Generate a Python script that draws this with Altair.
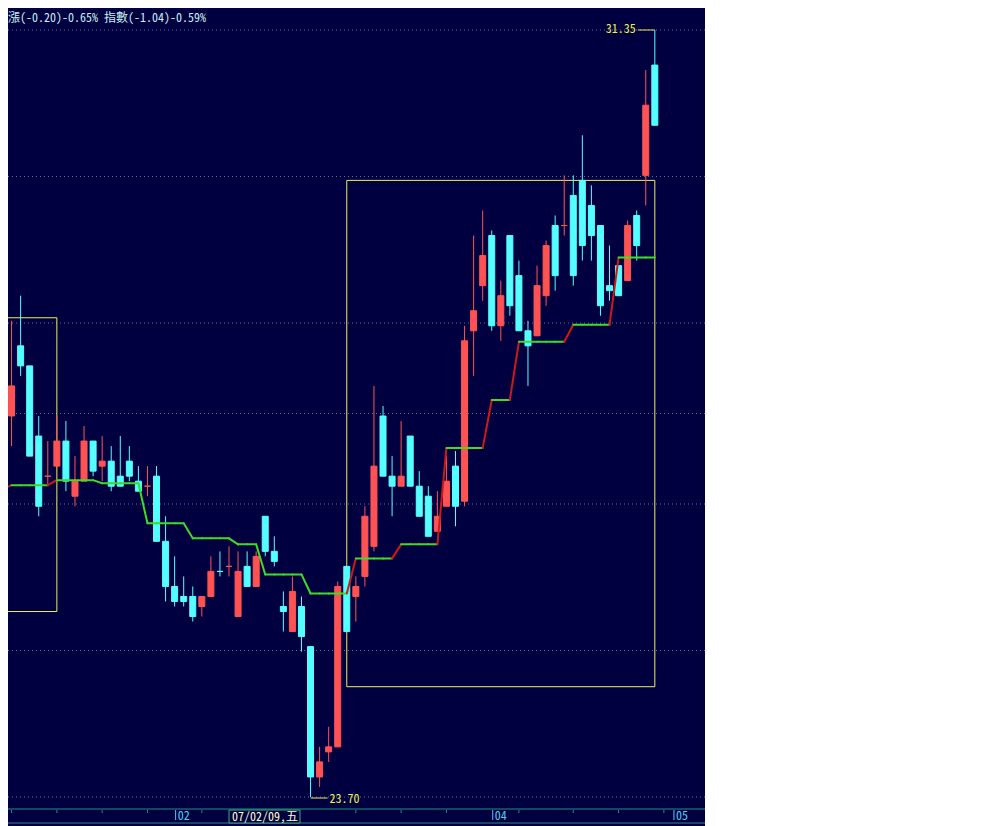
import altair as alt
import pandas as pd
import numpy as np

# ---------------- data ----------------
opens = [27.00, 27.50, 28.20, 28.00, 27.30, 26.90, 27.00, 27.25, 26.70, 26.85,
         27.25, 27.00, 27.05, 26.90, 27.05, 26.85, 26.80, 26.90, 26.25, 25.80,
         25.70, 25.70, 25.60, 25.70, 25.95, 26.00, 25.50, 26.00, 25.80, 26.50,
         26.15, 25.60, 25.35, 25.60, 25.20, 23.90, 24.15, 24.20, 26.00, 25.70,
         25.90, 26.20, 27.50, 26.90, 26.80, 27.30, 26.80, 26.70, 26.35, 26.60,
         27.00, 26.65, 28.35, 28.80, 29.30, 28.40, 29.30, 28.90, 28.35, 28.30,
         28.70, 29.40, 29.40, 29.70, 29.85, 29.60, 29.40, 28.80, 29.00, 28.85,
         29.50, 29.90, 31.00]
closes = [27.55, 27.80, 28.00, 27.10, 26.60, 26.90, 27.25, 26.85, 26.85, 27.25,
          26.95, 27.05, 26.80, 26.80, 26.90, 26.75, 26.80, 26.25, 25.80, 25.65,
          25.65, 25.50, 25.70, 25.95, 25.95, 26.00, 25.95, 25.80, 26.10, 26.15,
          26.05, 25.55, 25.75, 25.30, 23.90, 24.05, 24.20, 25.80, 25.35, 25.80,
          26.50, 27.00, 26.90, 26.80, 26.90, 26.80, 26.50, 26.30, 26.50, 26.85,
          26.60, 28.25, 28.55, 29.10, 28.40, 28.70, 28.60, 28.35, 28.20, 28.80,
          29.20, 28.90, 29.40, 28.90, 29.20, 29.30, 28.60, 28.75, 28.70, 29.40,
          29.20, 30.60, 30.40]
highs = [27.80, 28.45, 28.70, 28.00, 27.50, 27.25, 27.50, 27.45, 27.10, 27.40,
         27.25, 27.30, 27.20, 27.30, 27.20, 27.00, 27.00, 27.00, 26.50, 26.10,
         25.90, 25.80, 25.70, 26.10, 26.15, 26.20, 26.15, 26.15, 26.15, 26.50,
         26.30, 25.75, 25.90, 25.70, 25.20, 24.20, 24.40, 25.85, 26.00, 25.90,
         26.60, 27.80, 27.60, 27.10, 27.45, 27.30, 26.95, 26.80, 26.75, 27.10,
         27.15, 28.40, 29.30, 29.55, 29.35, 28.85, 29.30, 29.05, 28.45, 29.00,
         29.25, 29.50, 29.90, 29.90, 30.30, 29.80, 29.40, 29.20, 29.00, 29.45,
         29.55, 30.95, 31.35]
lows = [26.85, 27.20, 27.90, 27.10, 26.50, 26.80, 27.00, 26.75, 26.60, 26.85,
        26.90, 26.85, 26.75, 26.80, 26.85, 26.75, 26.70, 26.25, 25.65, 25.60,
        25.60, 25.45, 25.50, 25.70, 25.90, 25.90, 25.50, 25.80, 25.80, 26.10,
        26.00, 25.35, 25.35, 25.15, 23.70, 23.80, 24.05, 24.20, 25.35, 25.45,
        25.80, 26.15, 26.90, 26.50, 26.80, 26.80, 26.50, 26.30, 26.35, 26.60,
        26.40, 26.60, 27.90, 28.65, 28.35, 28.25, 28.50, 28.35, 27.80, 28.30,
        28.60, 28.75, 29.30, 28.80, 29.05, 29.05, 28.50, 28.65, 28.70, 28.85,
        29.05, 29.60, 30.40]
stop_line = ([26.77] + [26.81] * 5 + [26.86] * 5 + [26.83] * 5 + [26.43] * 5 +
             [26.28] * 5 + [26.22] * 3 + [25.92] * 5 + [25.73] * 5 + [26.08] * 5 +
             [26.22] * 5 + [27.18] * 5 + [27.66] * 3 + [28.24] * 6 + [28.41] * 5 +
             [29.08] * 5)

box_start = [-3, 38]
box_end = [6, 72]
box_top = [28.48, 29.85]
box_bottom = [25.55, 24.80]
fib_levels = [0, 0.191, 0.382, 0.5, 0.618, 0.809, 1]
month_idx = [19, 54, 74]
month_lbl = ["02", "04", "05"]
week_ticks = [1, 6, 11, 16, 22, 27, 32, 39, 44, 49, 57, 63, 68, 73]
cursor_idx = [25]
cursor_lbl = ["07/02/09,五"]
header = ["漲(-0.20)-0.65% 指數(-1.04)-0.59%"]

# ---------------- styles ----------------
W, H = 697, 818
BG = "#000040"
RED = "#FF5353"
CYAN = "#55FFFF"
GREEN = "#3CDC28"
DARKRED = "#D01818"
YEL = "#F0F050"
GRID = "#6A6A98"
TEAL = "#2A8C82"
MONTH = "#50CCF0"
FONT = "Noto Sans Mono CJK TC, DejaVu Sans Mono, monospace"

xs = alt.Scale(domain=[0.607, 0.607 + W / 9.06], nice=False, zero=False, padding=0)
ys = alt.Scale(domain=[23.4108, 31.5694], nice=False, zero=False, padding=0)

n = len(opens)
df = pd.DataFrame({"i": range(n), "open": opens, "close": closes,
                   "high": highs, "low": lows})
prev = df["close"].shift(1)
up = (df["close"] > df["open"]) | ((df["close"] == df["open"]) & (df["close"] > prev))
df["col"] = np.where(up, RED, CYAN)

seg = pd.DataFrame({"i": list(range(n - 1)), "i2": list(range(1, n)),
                    "v": stop_line[:-1], "v2": stop_line[1:]})
seg["col"] = np.where(seg["v2"] > seg["v"], DARKRED, GREEN)

lo_p, hi_p = min(lows), max(highs)
grid = pd.DataFrame({"p": [lo_p + f * (hi_p - lo_p) for f in fib_levels]})
boxes = pd.DataFrame({"a": box_start, "b": box_end, "t": box_top, "u": box_bottom})
hi_df = pd.DataFrame({"i": [int(np.argmax(highs))], "p": [hi_p], "t": [f"{hi_p:.2f}"]})
lo_df = pd.DataFrame({"i": [int(np.argmin(lows))], "p": [lo_p], "t": [f"{lo_p:.2f}"]})
months = pd.DataFrame({"i": month_idx, "t": month_lbl})
ticks = pd.DataFrame({"i": week_ticks})
cursor = pd.DataFrame({"i": cursor_idx, "t": cursor_lbl})
head = pd.DataFrame({"t": header})

X = lambda f: alt.X(f, scale=xs, axis=None)
Y = lambda f: alt.Y(f, scale=ys, axis=None)

grid_l = alt.Chart(grid).mark_rule(color=GRID, strokeDash=[1, 3], strokeWidth=1).encode(
    x=alt.value(0), x2=alt.value(W), y=Y("p:Q"))

box_l = alt.Chart(boxes).mark_rect(fillOpacity=0, stroke=YEL, strokeWidth=1).encode(
    x=X("a:Q"), x2="b:Q", y=Y("t:Q"), y2="u:Q")

wick = alt.Chart(df).mark_rule(strokeWidth=1).encode(
    x=X("i:Q"), y=Y("low:Q"), y2="high:Q", color=alt.Color("col:N", scale=None))

body = alt.Chart(df).mark_bar(size=6, strokeWidth=1).encode(
    x=X("i:Q"), y=Y("open:Q"), y2="close:Q",
    fill=alt.Fill("col:N", scale=None), stroke=alt.Stroke("col:N", scale=None))

line = alt.Chart(seg).mark_rule(strokeWidth=2, strokeCap="round").encode(
    x=X("i:Q"), x2="i2:Q", y=Y("v:Q"), y2="v2:Q", color=alt.Color("col:N", scale=None))

hi_lead = alt.Chart(hi_df).mark_rule(color=YEL, strokeWidth=1, x2Offset=-17).encode(
    x=X("i:Q"), x2="i:Q", y=Y("p:Q"))
hi_txt = alt.Chart(hi_df).mark_text(align="right", baseline="middle", dx=-19, dy=-1,
                                    color=YEL, font=FONT, fontSize=12).encode(
    x=X("i:Q"), y=Y("p:Q"), text="t:N")
lo_lead = alt.Chart(lo_df).mark_rule(color=YEL, strokeWidth=1, x2Offset=17, yOffset=1, y2Offset=1).encode(
    x=X("i:Q"), x2="i:Q", y=Y("p:Q"))
lo_txt = alt.Chart(lo_df).mark_text(align="left", baseline="middle", dx=19, dy=2,
                                    color=YEL, font=FONT, fontSize=12).encode(
    x=X("i:Q"), y=Y("p:Q"), text="t:N")

axis_lines = alt.Chart(pd.DataFrame({"y": [801, 815]})).mark_rule(color=TEAL, strokeWidth=1).encode(
    x=alt.value(0), x2=alt.value(W), y=alt.Y("y:Q", scale=None))
tick_l = alt.Chart(ticks).mark_rule(color=TEAL, strokeWidth=1).encode(
    x=X("i:Q"), y=alt.value(802), y2=alt.value(805))
month_sep = alt.Chart(months).mark_rule(color=MONTH, strokeWidth=1, xOffset=1, x2Offset=1).encode(
    x=X("i:Q"), y=alt.value(802), y2=alt.value(812))
month_txt = alt.Chart(months).mark_text(align="left", baseline="middle", dx=3,
                                        color=MONTH, font=FONT, fontSize=12).encode(
    x=X("i:Q"), y=alt.value(808), text="t:N")

cur_box = alt.Chart(cursor).mark_rect(fill=BG, stroke="#3AAA8A", strokeWidth=1, x2Offset=71).encode(
    x=X("i:Q"), x2="i:Q", y=alt.value(802), y2=alt.value(815))
cur_txt = alt.Chart(cursor).mark_text(align="left", baseline="middle", dx=3,
                                      color="#FFFFC8", font=FONT, fontSize=12).encode(
    x=X("i:Q"), y=alt.value(808.5), text="t:N")

head_txt = alt.Chart(head).mark_text(align="left", baseline="middle",
                                     color="#C8F0F0", font=FONT, fontSize=12).encode(
    x=alt.value(0), y=alt.value(10), text="t:N")

chart = alt.layer(
    grid_l, box_l, wick, body, line, hi_lead, hi_txt, lo_lead, lo_txt,
    axis_lines, tick_l, month_sep, month_txt, cur_box, cur_txt, head_txt
).properties(
    width=W, height=H, padding=0, autosize=alt.AutoSizeParams(type="none")
).configure(background=BG).configure_view(strokeWidth=0)

chart.save("out.html", embed_options={"renderer": "svg", "actions": False})
